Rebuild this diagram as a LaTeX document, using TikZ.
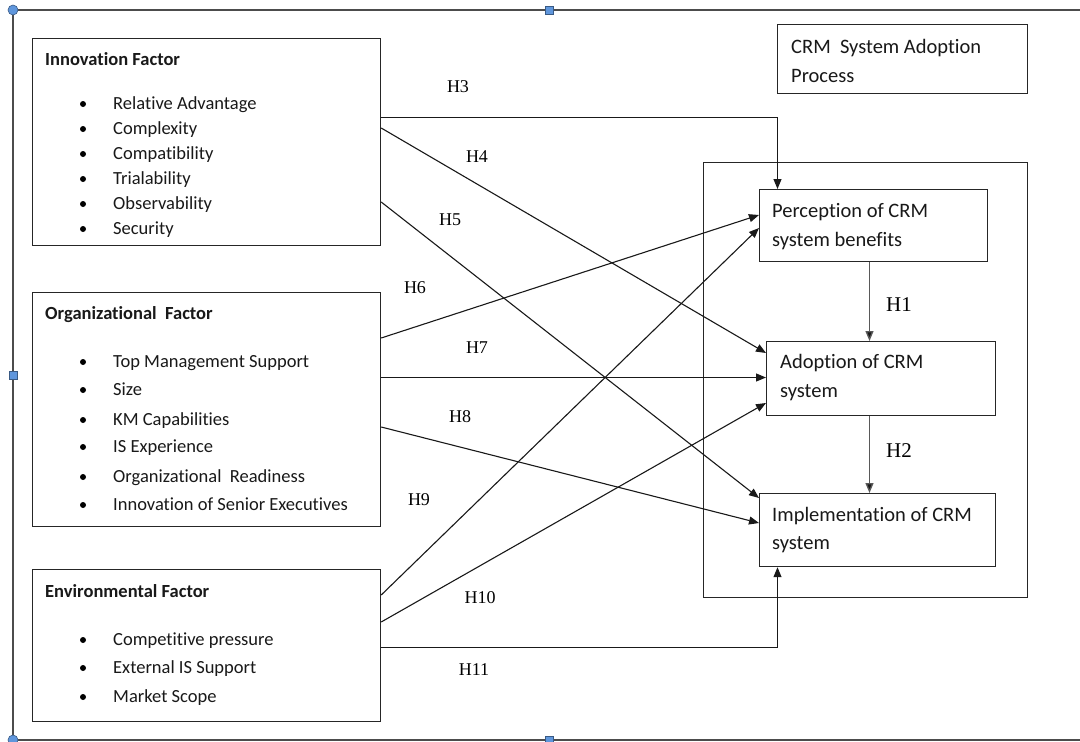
\documentclass[tikz,border=0pt]{standalone}
\usepackage{fontspec}
\setmainfont{Carlito}[Ligatures={NoCommon}]
\newfontfamily\hfont{Liberation Serif}
\usetikzlibrary{arrows.meta,calc}
\definecolor{handleblue}{RGB}{95,150,220}
\begin{document}
\begin{tikzpicture}[x=1pt,y=-1pt,
  box/.style={draw=black!85, line width=1.2pt, inner sep=0, anchor=north west},
  txt/.style={anchor=base west, inner sep=0, font=\fontsize{18.5}{22}\selectfont, text=black!90},
  rtxt/.style={anchor=base west, inner sep=0, font=\fontsize{20.5}{24}\selectfont, text=black!90},
  hd/.style={anchor=base west, inner sep=0, font=\fontsize{18.5}{22}\selectfont\bfseries, text=black!90},
  bul/.style={circle, fill=black, inner sep=0, minimum size=6pt},
  hl/.style={inner sep=0, font=\hfont\fontsize{18}{22}\selectfont},
  hlb/.style={inner sep=0, font=\hfont\fontsize{21}{24}\selectfont},
  conn/.style={line width=1.1pt, draw=black!90, -{Triangle[length=10pt,width=8pt]}},
  gconn/.style={line width=1.3pt, draw=black!65, -{Triangle[length=10pt,width=8pt,fill=black!90]}},
  hsq/.style={fill=handleblue, draw=handleblue!60!black, line width=0.6pt, minimum size=8pt, inner sep=0},
  hci/.style={circle, fill=handleblue, draw=handleblue!60!black, line width=0.6pt, minimum size=10pt, inner sep=0}
]
\useasboundingbox (0,0) rectangle (1080,742);
\clip (0,0) rectangle (1080,742);
\fill[white] (0,0) rectangle (1080,742);
\draw[line width=1.5pt, black!70] (1095,10) -- (13,10) -- (13,740) -- (1095,740);

% boxes
\node[box, minimum width=348pt, minimum height=207pt] (inn) at (32,38) {};
\node[box, minimum width=348pt, minimum height=234pt] (org) at (32,292) {};
\node[box, minimum width=348pt, minimum height=152pt] (env) at (32,569) {};
\node[box, minimum width=250pt, minimum height=69pt] (ttl) at (777,24) {};
\node[box, minimum width=324pt, minimum height=435pt] (cont) at (703,162) {};
\node[box, minimum width=228pt, minimum height=72pt] (perc) at (759,189) {};
\node[box, minimum width=229pt, minimum height=74pt] (adop) at (766,341) {};
\node[box, minimum width=236pt, minimum height=73pt] (impl) at (759,493) {};

% innovation text
\node[hd] (inh) at (45,65) {Innovation Factor};
\foreach \t/\y [count=\i] in {Relative Advantage/109, Complexity/134, Compatibility/159, Trialability/184, Observability/209, Security/234}{
  \node[bul] (ib\i) at (83,\y-5) {};
  \node[txt] (it\i) at (113,\y) {\t};
}
% organizational text
\node[hd] (orh) at (45,319) {Organizational\ \ Factor};
\foreach \t/\y [count=\i] in {Top Management Support/367, Size/395, KM Capabilities/425, IS Experience/452, Organizational\ \ Readiness/482, Innovation of Senior Executives/510}{
  \node[bul] (ob\i) at (83,\y-5) {};
  \node[txt] (ot\i) at (113,\y) {\t};
}
% environmental text
\node[hd] (enh) at (45,597) {Environmental Factor};
\foreach \t/\y [count=\i] in {Competitive pressure/645, External IS Support/673, Market Scope/702}{
  \node[bul] (eb\i) at (83,\y-5) {};
  \node[txt] (et\i) at (113,\y) {\t};
}

% right texts
\node[rtxt] (tt1) at (791,53) {CRM\ \ System Adoption};
\node[rtxt] (tt2) at (791,82) {Process};
\node[rtxt] (pt1) at (772,217) {Perception of CRM};
\node[rtxt] (pt2) at (772,246) {system benefits};
\node[rtxt] (at1) at (780,368) {Adoption of CRM};
\node[rtxt] (at2) at (780,397) {system};
\node[rtxt] (mt1) at (772,521) {Implementation of CRM};
\node[rtxt] (mt2) at (772,549) {system};

% connectors
\draw[conn] ($(inn.north east)+(0,79.5)$) -| ($(perc.north west)+(18.5,0)$);
\draw[conn] ($(inn.north east)+(0,90)$) -- ($(adop.north west)+(0,12)$);
\draw[conn] ($(inn.north east)+(0,164)$) -- ($(impl.north west)+(0,5)$);
\draw[conn] ($(org.north east)+(0,46)$) -- ($(perc.north west)+(0,26)$);
\draw[conn] ($(org.north east)+(0,85.5)$) -- ($(adop.north west)+(0,36.5)$);
\draw[conn] ($(org.north east)+(0,135)$) -- ($(impl.north west)+(0,30)$);
\draw[conn] ($(env.north east)+(0,26)$) -- ($(perc.north west)+(0,39)$);
\draw[conn] ($(env.north east)+(0,53)$) -- ($(adop.north west)+(0,62)$);
\draw[conn] ($(env.north east)+(0,78.5)$) -| ($(impl.south west)+(18.5,0)$);

\coordinate (h1a) at ($(perc.south west)+(110.5,0)$);
\draw[gconn] (h1a) -- (h1a |- adop.north);
\coordinate (h2a) at (h1a |- adop.south);
\draw[gconn] (h2a) -- (h2a |- impl.north);

% labels
\node[hl] (l3) at (458,87) {H3};
\node[hl] (l4) at (477,157) {H4};
\node[hl] (l5) at (450,220) {H5};
\node[hl] (l6) at (415,288) {H6};
\node[hl] (l7) at (477,348) {H7};
\node[hl] (l8) at (460,417) {H8};
\node[hl] (l9) at (419,500) {H9};
\node[hl] (l10) at (480,598) {H10};
\node[hl] (l11) at (474,670) {H11};
\node[hlb] (l1) at (899,305) {H1};
\node[hlb] (l2) at (899,451) {H2};

% selection handles
\node[hci] (c1) at (13,10) {};
\node[hci] (c2) at (13,740) {};
\node[hsq] (s1) at (549,10) {};
\node[hsq] (s2) at (13,375) {};
\node[hsq] (s3) at (549,740) {};
\end{tikzpicture}
\end{document}
